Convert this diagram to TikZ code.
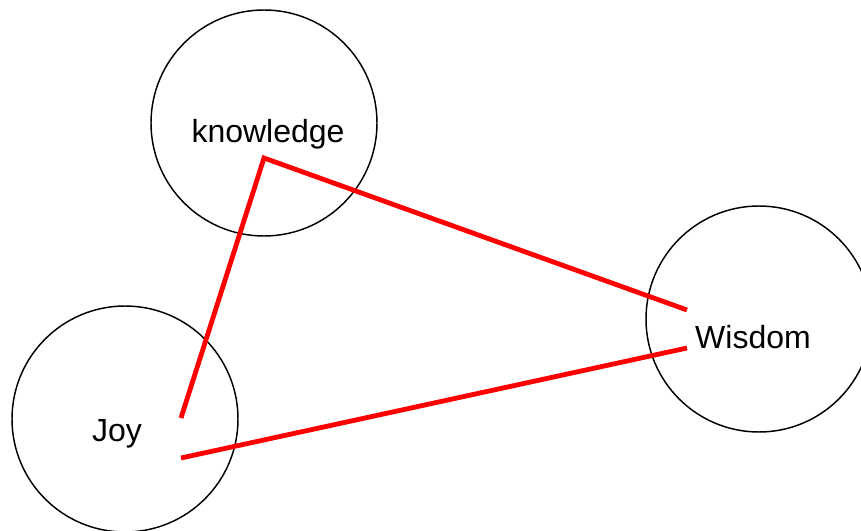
\documentclass[tikz,border=0pt]{standalone}
\usepackage{fontspec}
\setmainfont{Liberation Sans}
\begin{document}
\begin{tikzpicture}[x=0.75pt,y=-0.75pt,
  bubble/.style={draw=black,line width=1.1pt,circle,minimum size=226*0.75pt,inner sep=0pt},
  lbl/.style={font=\fontsize{24}{28}\selectfont,anchor=base,inner sep=0pt},
  link/.style={draw=red,line width=3.6pt,line cap=butt,line join=miter}]
\useasboundingbox (0,0) rectangle (861,531);
\node[bubble] (kc) at (264,123) {};
\node[bubble] (jc) at (125,419) {};
\node[bubble] (wc) at (759,319) {};
\node[lbl] (kt) at (268,143) {knowledge};
\node[lbl] (jt) at (117,441) {Joy};
\node[lbl] (wt) at (753,349) {Wisdom};
\coordinate (k) at (264,158);
\coordinate (j1) at (181,418);
\coordinate (j2) at (181,458);
\coordinate (w1) at (687,310);
\coordinate (w2) at (687,348);
\draw[link] (j1) -- (k) -- (w1);
\draw[link] (j2) -- (w2);
\end{tikzpicture}
\end{document}
